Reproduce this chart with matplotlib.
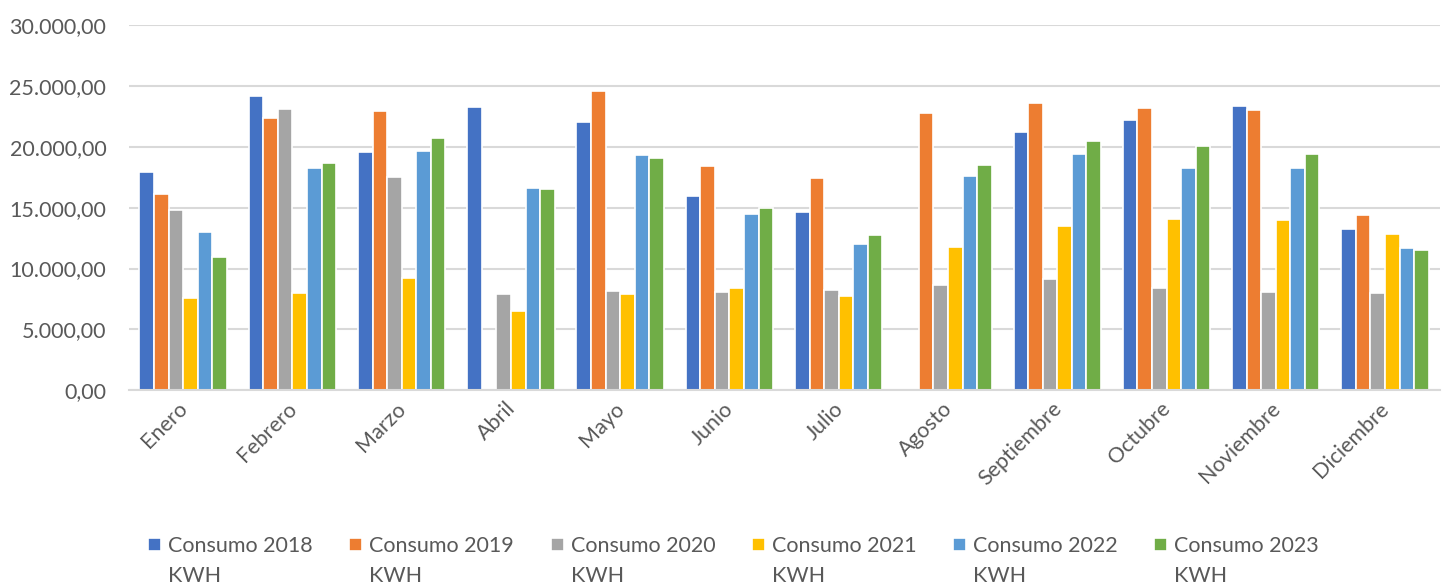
import numpy as np
import matplotlib.pyplot as plt
import matplotlib.transforms as mtrans
from matplotlib.ticker import FuncFormatter

meses = ["Enero", "Febrero", "Marzo", "Abril", "Mayo", "Junio", "Julio",
         "Agosto", "Septiembre", "Octubre", "Noviembre", "Diciembre"]

c2018 = [17970, 24200, 19590, 23300, 22000, 15930, 14620, 0, 21210, 22170, 23350, 13210]
c2019 = [16150, 22360, 22940, 0, 24560, 18460, 17470, 22780, 23570, 23190, 23050, 14400]
c2020 = [14780, 23080, 17500, 7890, 8130, 8080, 8240, 8680, 9150, 8430, 8100, 7970]
c2021 = [7580, 8000, 9200, 6480, 7940, 8430, 7720, 11790, 13460, 14040, 14010, 12830]
c2022 = [12970, 18300, 19670, 16590, 19290, 14450, 12030, 17640, 19420, 18270, 18270, 11700]
c2023 = [10910, 18650, 20690, 16510, 19070, 15000, 12720, 18540, 20440, 20030, 19400, 11540]

series = [c2018, c2019, c2020, c2021, c2022, c2023]
nombres = ["Consumo 2018", "Consumo 2019", "Consumo 2020",
           "Consumo 2021", "Consumo 2022", "Consumo 2023"]
unidad = "KWH"
colores = ["#4472C4", "#ED7D31", "#A5A5A5", "#FFC000", "#5B9BD5", "#70AD47"]

plt.rcParams['font.family'] = ['Lato', 'DejaVu Sans']
txt = "#595959"
fs = 15.5

fig = plt.figure(figsize=(14.44, 5.85), dpi=100)
ax = fig.add_axes([0.089, 0.333, 0.908, 0.624])

x = np.arange(len(meses))
ancho = 0.8 / 6
for i, (vals, nom, col) in enumerate(zip(series, nombres, colores)):
    ax.bar(x - 0.4 + ancho * (i + 0.5), vals, width=ancho, color=col,
           edgecolor="white", linewidth=1.2, label=nom, zorder=3)

ax.set_xlim(-0.5, len(meses) - 0.5)
ax.set_ylim(0, 30000)
ax.set_yticks(np.arange(0, 30001, 5000))
ax.yaxis.set_major_formatter(FuncFormatter(
    lambda v, p: f"{v:,.2f}".replace(",", "X").replace(".", ",").replace("X", ".")))
ax.set_xticks(x)
ax.set_xticklabels(meses, rotation=45, ha="right", rotation_mode="anchor")
ax.tick_params(axis="both", length=0, labelsize=fs, colors=txt)
ax.tick_params(axis="x", pad=6)
ax.tick_params(axis="y", pad=16)
# nudge month labels a little to the left
shift = mtrans.ScaledTranslation(-6 / 100, 0, fig.dpi_scale_trans)
for lbl in ax.get_xticklabels():
    lbl.set_transform(lbl.get_transform() + shift)

ax.grid(axis="y", color="#d9d9d9", linewidth=1.5, zorder=0)
for s in ["top", "right", "left"]:
    ax.spines[s].set_visible(False)
ax.spines["bottom"].set_color("#d9d9d9")
ax.spines["bottom"].set_linewidth(1.5)
ax.spines["bottom"].set_zorder(4)

leg = fig.legend(loc="center", bbox_to_anchor=(0.508, 1 - 546 / 585), ncol=6,
                 frameon=False, fontsize=fs, handlelength=0.6, handleheight=0.6,
                 handletextpad=0.33, columnspacing=1.7, labelcolor=txt,
                 borderpad=0, borderaxespad=0)

# second line of each legend label, under the first
fig.canvas.draw()
for t in leg.get_texts():
    bb = t.get_window_extent()
    fig.text(bb.x0 / fig.bbox.width, (bb.y0 - 10) / fig.bbox.height, unidad,
             ha="left", va="top", fontsize=fs, color=txt)

fig.savefig("out.png", dpi=100)
